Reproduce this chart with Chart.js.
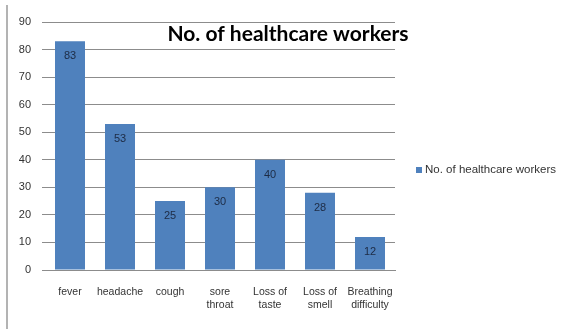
<!DOCTYPE html>
<html>
<head>
<meta charset="utf-8">
<script src="https://cdn.jsdelivr.net/npm/chart.js@4/dist/chart.umd.min.js"></script>
<style>
  html, body { margin: 0; padding: 0; background: #ffffff; }
  #wrap { width: 567px; height: 329px; position: relative; }
</style>
</head>
<body>
<div id="wrap"><canvas id="chart" width="567" height="329"></canvas></div>
<script>
// Symptoms reported and the number of healthcare workers for each
const symptoms = [
  'fever',
  'headache',
  'cough',
  ['sore', 'throat'],
  ['Loss of', 'taste'],
  ['Loss of', 'smell'],
  ['Breathing', 'difficulty']
];
const workers = [83, 53, 25, 30, 40, 28, 12];
const seriesName = 'No. of healthcare workers';
const chartTitle = 'No. of healthcare workers';
const yTicks = [0, 10, 20, 30, 40, 50, 60, 70, 80, 90];

const BAR = '#4F81BD';
const GRID = '#8c8c8c';
const TEXT = '#333333';

// Frame line, title, legend and in-bar value labels
const decorations = {
  id: 'decorations',
  beforeDraw(chart) {
    const ctx = chart.ctx;
    ctx.save();
    ctx.fillStyle = '#ffffff';
    ctx.fillRect(0, 0, chart.width, chart.height);
    ctx.strokeStyle = '#9a9a9a';
    ctx.lineWidth = 1.5;
    ctx.beginPath();
    ctx.moveTo(7, 5);
    ctx.lineTo(7, 329);
    ctx.stroke();
    ctx.restore();
  },
  afterDatasetsDraw(chart) {
    const ctx = chart.ctx;
    ctx.save();
    // value labels inside each bar
    const meta = chart.getDatasetMeta(0);
    ctx.font = '11px "Liberation Sans", Arial, sans-serif';
    ctx.fillStyle = '#1d2b44';
    ctx.textAlign = 'center';
    ctx.textBaseline = 'middle';
    meta.data.forEach((bar, i) => {
      ctx.fillText(String(workers[i]), bar.x, bar.y + 15);
    });

    // title over the plot
    ctx.font = 'bold 21px Lato, "Liberation Sans", sans-serif';
    const tw = ctx.measureText(chartTitle).width;
    const cx = 288, cy = 34;
    ctx.fillStyle = '#ffffff';
    ctx.fillRect(cx - tw / 2 - 3, cy - 11, tw + 6, 22);
    ctx.fillStyle = '#000000';
    ctx.textAlign = 'center';
    ctx.textBaseline = 'middle';
    ctx.fillText(chartTitle, cx, cy);

    // legend on the right
    ctx.fillStyle = BAR;
    ctx.fillRect(416, 167, 6, 6);
    ctx.fillStyle = TEXT;
    ctx.font = '11.5px "Liberation Sans", Arial, sans-serif';
    ctx.textAlign = 'left';
    ctx.fillText(seriesName, 425, 170);
    ctx.restore();
  }
};

new Chart(document.getElementById('chart'), {
  type: 'bar',
  data: {
    labels: symptoms,
    datasets: [{
      label: seriesName,
      data: workers,
      backgroundColor: BAR,
      borderWidth: 0,
      barPercentage: 0.6,
      categoryPercentage: 1.0
    }]
  },
  options: {
    responsive: false,
    animation: false,
    devicePixelRatio: 1,
    layout: { padding: { left: 0, right: 172, top: 22, bottom: 0 } },
    plugins: {
      legend: { display: false },
      title: { display: false },
      tooltip: { enabled: false }
    },
    scales: {
      x: {
        grid: { display: false, drawTicks: false },
        border: { display: true, color: GRID, width: 1 },
        ticks: {
          color: TEXT,
          font: { family: '"Liberation Sans", Arial, sans-serif', size: 10.5 },
          padding: 16,
          maxRotation: 0,
          autoSkip: false
        },
        afterFit(scale) { scale.height = 59; }
      },
      y: {
        min: 0,
        max: 90,
        afterBuildTicks(scale) { scale.ticks = yTicks.map(v => ({ value: v })); },
        grid: { color: GRID, lineWidth: 1, tickLength: 3, drawTicks: true },
        border: { display: false },
        ticks: {
          color: TEXT,
          font: { family: '"Liberation Sans", Arial, sans-serif', size: 11 },
          padding: 11
        },
        afterFit(scale) { scale.width = 45; }
      }
    }
  },
  plugins: [decorations]
});
</script>
</body>
</html>
